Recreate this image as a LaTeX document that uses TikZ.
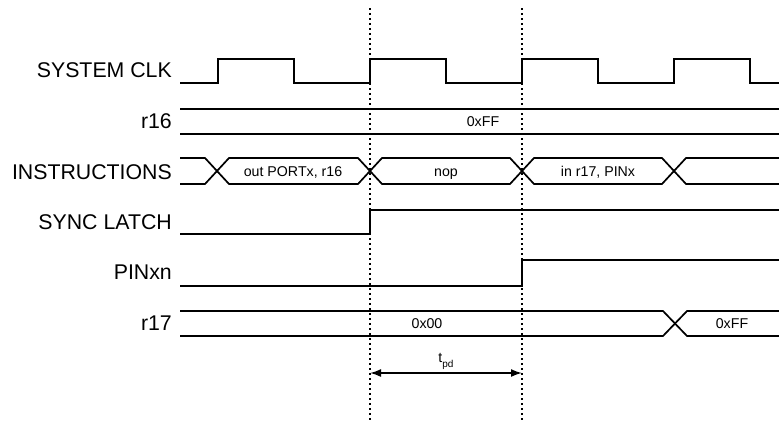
\documentclass[tikz,border=0pt]{standalone}
\usepackage{fontspec}
\setmainfont{Liberation Sans}
\usetikzlibrary{arrows.meta}
\begin{document}
\begin{tikzpicture}[x=1pt,y=-1pt,
 sig/.style={line width=1.7pt, line join=miter},
 lbl/.style={anchor=base east, font=\fontsize{21.3}{22}\selectfont, inner sep=0pt},
 val/.style={anchor=base, font=\fontsize{14.2}{15}\selectfont, inner sep=0pt},
 marker/.style={line width=2pt, dash pattern=on 2pt off 3pt},
 ]
\useasboundingbox (0,0) rectangle (779,423);
% labels
\node[lbl] (lclk) at (172,77) {SYSTEM CLK};
\node[lbl] (lr16) at (172,128) {r16};
\node[lbl] (lins) at (172,179) {INSTRUCTIONS};
\node[lbl] (lsync) at (172,229) {SYNC LATCH};
\node[lbl] (lpin) at (172,279) {PINxn};
\node[lbl] (lr17) at (172,330) {r17};
% clock
\draw[sig] (180,83) -- (218,83) -- (218,59) -- (294,59) -- (294,83) -- (370,83) -- (370,59)
  -- (446,59) -- (446,83) -- (522,83) -- (522,59) -- (598,59) -- (598,83) -- (674,83)
  -- (674,59) -- (750,59) -- (750,83) -- (779,83);
% r16
\draw[sig] (180,109) -- (779,109);
\draw[sig] (180,134) -- (779,134);
\node[val] (vr16) at (483,126) {0xFF};
% instructions bus
\draw[sig] (180,158) -- (205,158) -- (229,184) -- (358,184) -- (382,158) -- (510,158) -- (534,184)
  -- (662,184) -- (686,158) -- (779,158);
\draw[sig] (180,184) -- (205,184) -- (229,158) -- (358,158) -- (382,184) -- (510,184) -- (534,158)
  -- (662,158) -- (686,184) -- (779,184);
\node[val] (i1) at (293,176) {out PORTx, r16};
\node[val] (i2) at (446,176) {nop};
\node[val] (i3) at (598,176) {in r17, PINx};
% sync latch
\draw[sig] (180,234) -- (370,234) -- (370,210) -- (779,210);
% PINxn
\draw[sig] (180,286) -- (522,286) -- (522,260) -- (779,260);
% r17
\draw[sig] (180,311) -- (663,311) -- (687,336) -- (779,336);
\draw[sig] (180,336) -- (663,336) -- (687,311) -- (779,311);
\node[val] (v0) at (427,328) {0x00};
\node[val] (v1) at (732,328) {0xFF};
% markers
\coordinate (m1t) at (370,8);
\coordinate (m1b) at (370,421);
\coordinate (m2t) at (522,8);
\coordinate (m2b) at (522,421);
\draw[marker] (m1t) -- (m1b);
\draw[marker] (m2t) -- (m2b);
% tpd
\coordinate (a1) at (370,373);
\coordinate (a2) at (522,373);
\draw[line width=1.7pt, {Latex[length=11pt,width=8pt]}-{Latex[length=11pt,width=8pt]}] (a1) -- (a2);
\node[val] (tpd) at (446,362) {t\raisebox{-5pt}{\fontsize{10}{10}\selectfont pd}};
\end{tikzpicture}
\end{document}
